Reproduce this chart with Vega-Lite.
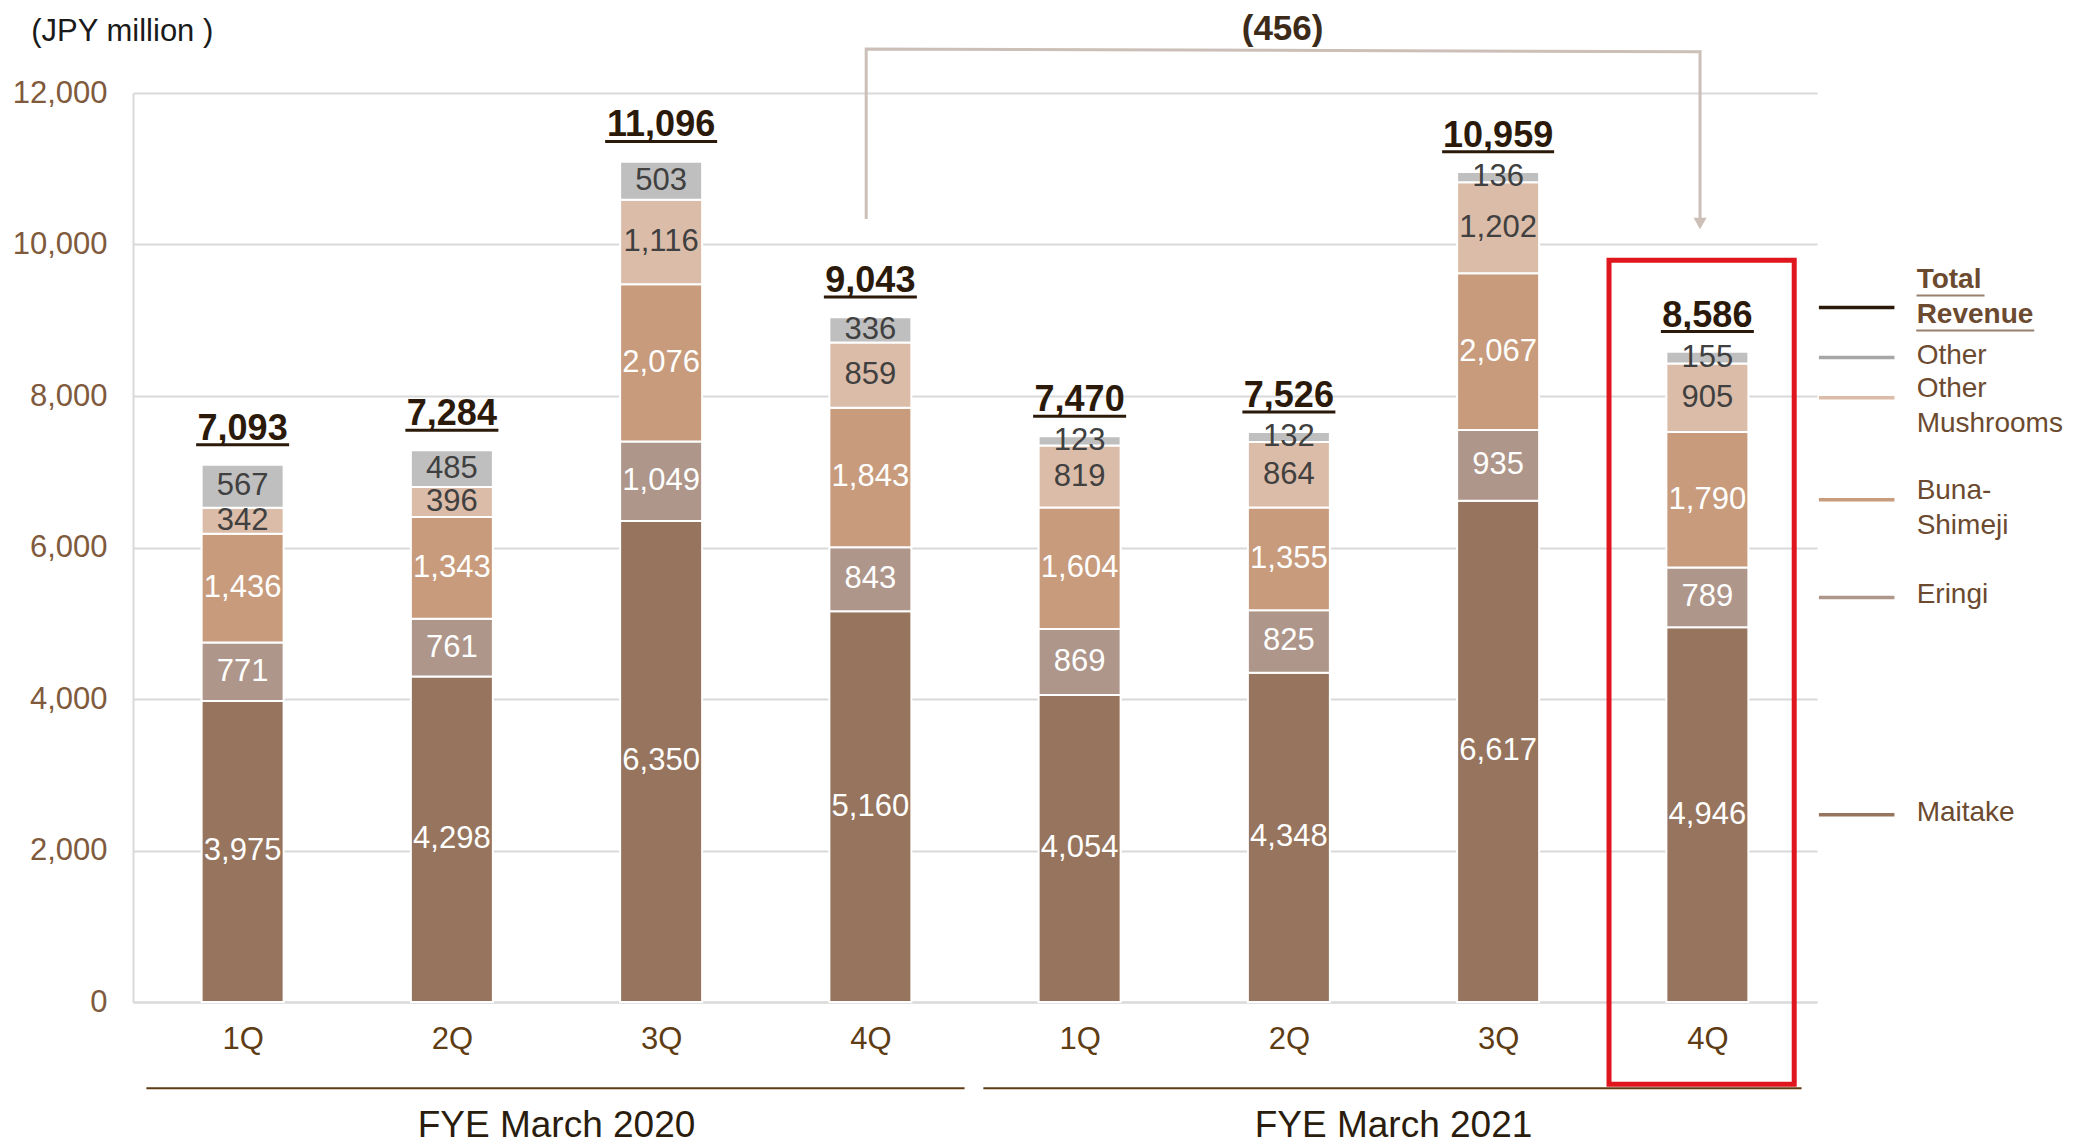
{
  "$schema": "https://vega.github.io/schema/vega-lite/v6.json",
  "width": 1684,
  "height": 909,
  "autosize": {"type": "none"},
  "padding": {"left": 133, "top": 93, "right": 263, "bottom": 142},
  "background": "white",
  "config": {"view": {"stroke": null}, "font": "Liberation Sans"},
  "datasets": {
    "seg": [
      {"fy": "FYE March 2020", "q": "1Q", "idx": 1, "series": "Maitake", "value": 3975},
      {"fy": "FYE March 2020", "q": "1Q", "idx": 1, "series": "Eringi", "value": 771},
      {"fy": "FYE March 2020", "q": "1Q", "idx": 1, "series": "Buna-Shimeji", "value": 1436},
      {"fy": "FYE March 2020", "q": "1Q", "idx": 1, "series": "Other Mushrooms", "value": 342},
      {"fy": "FYE March 2020", "q": "1Q", "idx": 1, "series": "Other", "value": 567},
      {"fy": "FYE March 2020", "q": "2Q", "idx": 2, "series": "Maitake", "value": 4298},
      {"fy": "FYE March 2020", "q": "2Q", "idx": 2, "series": "Eringi", "value": 761},
      {"fy": "FYE March 2020", "q": "2Q", "idx": 2, "series": "Buna-Shimeji", "value": 1343},
      {"fy": "FYE March 2020", "q": "2Q", "idx": 2, "series": "Other Mushrooms", "value": 396},
      {"fy": "FYE March 2020", "q": "2Q", "idx": 2, "series": "Other", "value": 485},
      {"fy": "FYE March 2020", "q": "3Q", "idx": 3, "series": "Maitake", "value": 6350},
      {"fy": "FYE March 2020", "q": "3Q", "idx": 3, "series": "Eringi", "value": 1049},
      {"fy": "FYE March 2020", "q": "3Q", "idx": 3, "series": "Buna-Shimeji", "value": 2076},
      {"fy": "FYE March 2020", "q": "3Q", "idx": 3, "series": "Other Mushrooms", "value": 1116},
      {"fy": "FYE March 2020", "q": "3Q", "idx": 3, "series": "Other", "value": 503},
      {"fy": "FYE March 2020", "q": "4Q", "idx": 4, "series": "Maitake", "value": 5160},
      {"fy": "FYE March 2020", "q": "4Q", "idx": 4, "series": "Eringi", "value": 843},
      {"fy": "FYE March 2020", "q": "4Q", "idx": 4, "series": "Buna-Shimeji", "value": 1843},
      {"fy": "FYE March 2020", "q": "4Q", "idx": 4, "series": "Other Mushrooms", "value": 859},
      {"fy": "FYE March 2020", "q": "4Q", "idx": 4, "series": "Other", "value": 336},
      {"fy": "FYE March 2021", "q": "1Q", "idx": 5, "series": "Maitake", "value": 4054},
      {"fy": "FYE March 2021", "q": "1Q", "idx": 5, "series": "Eringi", "value": 869},
      {"fy": "FYE March 2021", "q": "1Q", "idx": 5, "series": "Buna-Shimeji", "value": 1604},
      {"fy": "FYE March 2021", "q": "1Q", "idx": 5, "series": "Other Mushrooms", "value": 819},
      {"fy": "FYE March 2021", "q": "1Q", "idx": 5, "series": "Other", "value": 123},
      {"fy": "FYE March 2021", "q": "2Q", "idx": 6, "series": "Maitake", "value": 4348},
      {"fy": "FYE March 2021", "q": "2Q", "idx": 6, "series": "Eringi", "value": 825},
      {"fy": "FYE March 2021", "q": "2Q", "idx": 6, "series": "Buna-Shimeji", "value": 1355},
      {"fy": "FYE March 2021", "q": "2Q", "idx": 6, "series": "Other Mushrooms", "value": 864},
      {"fy": "FYE March 2021", "q": "2Q", "idx": 6, "series": "Other", "value": 132},
      {"fy": "FYE March 2021", "q": "3Q", "idx": 7, "series": "Maitake", "value": 6617},
      {"fy": "FYE March 2021", "q": "3Q", "idx": 7, "series": "Eringi", "value": 935},
      {"fy": "FYE March 2021", "q": "3Q", "idx": 7, "series": "Buna-Shimeji", "value": 2067},
      {"fy": "FYE March 2021", "q": "3Q", "idx": 7, "series": "Other Mushrooms", "value": 1202},
      {"fy": "FYE March 2021", "q": "3Q", "idx": 7, "series": "Other", "value": 136},
      {"fy": "FYE March 2021", "q": "4Q", "idx": 8, "series": "Maitake", "value": 4946},
      {"fy": "FYE March 2021", "q": "4Q", "idx": 8, "series": "Eringi", "value": 789},
      {"fy": "FYE March 2021", "q": "4Q", "idx": 8, "series": "Buna-Shimeji", "value": 1790},
      {"fy": "FYE March 2021", "q": "4Q", "idx": 8, "series": "Other Mushrooms", "value": 905},
      {"fy": "FYE March 2021", "q": "4Q", "idx": 8, "series": "Other", "value": 155}
    ],
    "tot": [
      {"idx": 1, "total": 7093},
      {"idx": 2, "total": 7284},
      {"idx": 3, "total": 11096},
      {"idx": 4, "total": 9043},
      {"idx": 5, "total": 7470},
      {"idx": 6, "total": 7526},
      {"idx": 7, "total": 10959},
      {"idx": 8, "total": 8586}
    ],
    "bracket": [
      {"o": 1, "bx": 3.98, "by": 10336},
      {"o": 2, "bx": 3.98, "by": 12580},
      {"o": 3, "bx": 7.965, "by": 12545},
      {"o": 4, "bx": 7.965, "by": 10330}
    ]
  },
  "resolve": {"scale": {"color": "independent", "stroke": "independent"}},
  "layer": [
    {
      "data": {"name": "seg"},
      "transform": [
        {"calculate": "indexof(['Maitake','Eringi','Buna-Shimeji','Other Mushrooms','Other'], datum.series)", "as": "rank"},
        {"stack": "value", "groupby": ["idx"], "sort": [{"field": "rank", "order": "ascending"}], "as": ["y0", "y1"]}
      ],
      "mark": {"type": "bar", "width": 82, "stroke": "white", "strokeWidth": 2},
      "encoding": {
        "x": {
          "field": "idx", "type": "quantitative",
          "scale": {"domain": [0.5, 8.5], "zero": false, "nice": false},
          "axis": {
            "values": [1, 2, 3, 4, 5, 6, 7, 8],
            "labelExpr": "((datum.value - 1) % 4 + 1) + 'Q'",
            "title": null, "grid": false, "ticks": false,
            "labelFontSize": 31, "labelColor": "#5e3c14", "labelPadding": 22,
            "labelFlush": false, "labelOverlap": false, "labelBound": false,
            "domainColor": "#d9d9d9", "domainWidth": 2
          }
        },
        "y": {
          "field": "y0", "type": "quantitative",
          "scale": {"domain": [0, 12000], "nice": false, "zero": true},
          "axis": {
            "values": [0, 2000, 4000, 6000, 8000, 10000, 12000],
            "labelExpr": "format(datum.value, ',')",
            "title": null, "ticks": false,
            "labelFontSize": 31, "labelColor": "#7f5a3c", "labelPadding": 26,
            "grid": true, "gridColor": "#d9d9d9", "gridWidth": 2,
            "domainColor": "#d9d9d9", "domainWidth": 2
          }
        },
        "y2": {"field": "y1"},
        "color": {
          "field": "series", "type": "nominal",
          "scale": {
            "domain": ["Maitake", "Eringi", "Buna-Shimeji", "Other Mushrooms", "Other"],
            "range": ["#96745d", "#ae968a", "#c79b7c", "#dbbca8", "#bfbfbf"]
          },
          "legend": null
        }
      }
    },
    {
      "data": {"name": "seg"},
      "transform": [
        {"calculate": "indexof(['Maitake','Eringi','Buna-Shimeji','Other Mushrooms','Other'], datum.series)", "as": "rank"},
        {"stack": "value", "groupby": ["idx"], "sort": [{"field": "rank", "order": "ascending"}], "as": ["y0", "y1"]},
        {"calculate": "(datum.y0 + datum.y1) / 2", "as": "mid"}
      ],
      "mark": {"type": "text", "fontSize": 31, "baseline": "middle", "align": "center"},
      "encoding": {
        "x": {"field": "idx", "type": "quantitative"},
        "y": {"field": "mid", "type": "quantitative"},
        "text": {"field": "value", "type": "quantitative", "format": ","},
        "color": {
          "field": "series", "type": "nominal",
          "scale": {
            "domain": ["Maitake", "Eringi", "Buna-Shimeji", "Other Mushrooms", "Other"],
            "range": ["#ffffff", "#ffffff", "#ffffff", "#404040", "#404040"]
          },
          "legend": null
        }
      }
    },
    {
      "data": {"name": "tot"},
      "mark": {"type": "text", "fontSize": 36, "fontWeight": "bold", "baseline": "alphabetic", "align": "center", "dy": -25, "color": "#2b1a0a"},
      "encoding": {
        "x": {"field": "idx", "type": "quantitative"},
        "y": {"field": "total", "type": "quantitative"},
        "text": {"field": "total", "type": "quantitative", "format": ","}
      }
    },
    {
      "data": {"name": "tot"},
      "transform": [{"filter": "datum.total < 10000"}],
      "mark": {"type": "tick", "orient": "horizontal", "size": 93, "thickness": 3, "color": "#2b1a0a", "yOffset": -20, "opacity": 1},
      "encoding": {
        "x": {"field": "idx", "type": "quantitative"},
        "y": {"field": "total", "type": "quantitative"}
      }
    },
    {
      "data": {"name": "tot"},
      "transform": [{"filter": "datum.total >= 10000"}],
      "mark": {"type": "tick", "orient": "horizontal", "size": 112, "thickness": 3, "color": "#2b1a0a", "yOffset": -20, "opacity": 1},
      "encoding": {
        "x": {"field": "idx", "type": "quantitative"},
        "y": {"field": "total", "type": "quantitative"}
      }
    },
    {
      "data": {"name": "seg"},
      "transform": [
        {"calculate": "indexof(['Maitake','Eringi','Buna-Shimeji','Other Mushrooms','Other'], datum.series)", "as": "rank"},
        {"stack": "value", "groupby": ["idx"], "sort": [{"field": "rank", "order": "ascending"}], "as": ["y0", "y1"]},
        {"calculate": "(datum.y0 + datum.y1) / 2", "as": "mid"},
        {"filter": "datum.idx == 8"}
      ],
      "mark": {"type": "rule", "strokeWidth": 3.5},
      "encoding": {
        "x": {"datum": 8.533},
        "x2": {"datum": 8.894},
        "y": {"field": "mid", "type": "quantitative"},
        "stroke": {
          "field": "series", "type": "nominal",
          "scale": {
            "domain": ["Maitake", "Eringi", "Buna-Shimeji", "Other Mushrooms", "Other"],
            "range": ["#96745d", "#ae968a", "#c79b7c", "#dbbca8", "#a6a6a6"]
          },
          "legend": null
        }
      }
    },
    {
      "data": {"name": "seg"},
      "transform": [
        {"calculate": "indexof(['Maitake','Eringi','Buna-Shimeji','Other Mushrooms','Other'], datum.series)", "as": "rank"},
        {"stack": "value", "groupby": ["idx"], "sort": [{"field": "rank", "order": "ascending"}], "as": ["y0", "y1"]},
        {"calculate": "(datum.y0 + datum.y1) / 2", "as": "mid"},
        {"filter": "datum.idx == 8 && (datum.series == 'Maitake' || datum.series == 'Eringi' || datum.series == 'Other')"}
      ],
      "mark": {"type": "text", "fontSize": 28, "align": "left", "baseline": "middle", "color": "#6b4a30", "dy": -2},
      "encoding": {
        "x": {"datum": 9.0},
        "y": {"field": "mid", "type": "quantitative"},
        "text": {"field": "series", "type": "nominal"}
      }
    },
    {
      "data": {"name": "seg"},
      "transform": [
        {"calculate": "indexof(['Maitake','Eringi','Buna-Shimeji','Other Mushrooms','Other'], datum.series)", "as": "rank"},
        {"stack": "value", "groupby": ["idx"], "sort": [{"field": "rank", "order": "ascending"}], "as": ["y0", "y1"]},
        {"calculate": "(datum.y0 + datum.y1) / 2", "as": "mid"},
        {"filter": "datum.idx == 8 && (datum.series == 'Buna-Shimeji' || datum.series == 'Other Mushrooms')"},
        {"calculate": "replace(replace(datum.series, ' ', '\\n'), '-', '-\\n')", "as": "lab"}
      ],
      "mark": {"type": "text", "fontSize": 28, "align": "left", "baseline": "middle", "color": "#6b4a30", "lineBreak": "\n", "lineHeight": 35, "dy": -9},
      "encoding": {
        "x": {"datum": 9.0},
        "y": {"field": "mid", "type": "quantitative"},
        "text": {"field": "lab", "type": "nominal"}
      }
    },
    {
      "data": {"name": "tot"},
      "transform": [{"filter": "datum.idx == 8"}],
      "mark": {"type": "rule", "strokeWidth": 3.5, "color": "#2b1a0a", "yOffset": -44},
      "encoding": {
        "x": {"datum": 8.533},
        "x2": {"datum": 8.894},
        "y": {"field": "total", "type": "quantitative"}
      }
    },
    {
      "data": {"name": "tot"},
      "transform": [{"filter": "datum.idx == 8"}],
      "mark": {"type": "text", "fontSize": 28, "fontWeight": "bold", "align": "left", "baseline": "middle", "color": "#6b4a30", "lineBreak": "\n", "lineHeight": 35, "dy": -72},
      "encoding": {
        "x": {"datum": 9.0},
        "y": {"field": "total", "type": "quantitative"},
        "text": {"value": "Total\nRevenue"}
      }
    },
    {
      "data": {"name": "tot"},
      "transform": [{"filter": "datum.idx == 8"}],
      "mark": {"type": "tick", "orient": "horizontal", "size": 68, "thickness": 2, "color": "#6b4a30", "yOffset": -56},
      "encoding": {
        "x": {"datum": 9.162},
        "y": {"field": "total", "type": "quantitative"}
      }
    },
    {
      "data": {"name": "tot"},
      "transform": [{"filter": "datum.idx == 8"}],
      "mark": {"type": "tick", "orient": "horizontal", "size": 118, "thickness": 2, "color": "#6b4a30", "yOffset": -21},
      "encoding": {
        "x": {"datum": 9.28},
        "y": {"field": "total", "type": "quantitative"}
      }
    },
    {
      "data": {"name": "bracket"},
      "mark": {"type": "line", "color": "#cbbfb8", "strokeWidth": 3},
      "encoding": {
        "x": {"field": "bx", "type": "quantitative"},
        "y": {"field": "by", "type": "quantitative"},
        "order": {"field": "o", "type": "quantitative"}
      }
    },
    {
      "data": {"name": "bracket"},
      "transform": [{"filter": "datum.o == 4"}],
      "mark": {"type": "point", "shape": "triangle-down", "filled": true, "size": 170, "color": "#cbbfb8", "opacity": 1, "yOffset": 4},
      "encoding": {
        "x": {"field": "bx", "type": "quantitative"},
        "y": {"field": "by", "type": "quantitative"}
      }
    },
    {
      "data": {"values": [{"lab": "(456)"}]},
      "mark": {"type": "text", "fontSize": 35, "fontWeight": "bold", "align": "center", "baseline": "middle", "color": "#3d2b1a"},
      "encoding": {
        "x": {"datum": 5.97},
        "y": {"datum": 12843},
        "text": {"field": "lab", "type": "nominal"}
      }
    },
    {
      "data": {"values": [{"lab": "(JPY million )"}]},
      "mark": {"type": "text", "fontSize": 31, "align": "left", "baseline": "middle", "color": "#1a1a1a"},
      "encoding": {
        "x": {"datum": -0.01},
        "y": {"datum": 12804},
        "text": {"field": "lab", "type": "nominal"}
      }
    },
    {
      "data": {"values": [{"lab": "box"}]},
      "mark": {"type": "rect", "fillOpacity": 0, "stroke": "#e0161e", "strokeWidth": 5},
      "encoding": {
        "x": {"datum": 7.53},
        "x2": {"datum": 8.415},
        "y": {"datum": 9792},
        "y2": {"datum": -1087}
      }
    },
    {
      "data": {"name": "seg"},
      "transform": [
        {"aggregate": [{"op": "min", "field": "idx", "as": "lo"}, {"op": "max", "field": "idx", "as": "hi"}], "groupby": ["fy"]},
        {"calculate": "datum.lo - 0.46", "as": "a"},
        {"calculate": "datum.hi + 0.45", "as": "b"}
      ],
      "mark": {"type": "rule", "color": "#5e3c14", "strokeWidth": 2},
      "encoding": {
        "x": {"field": "a", "type": "quantitative"},
        "x2": {"field": "b"},
        "y": {"datum": -1138}
      }
    },
    {
      "data": {"name": "seg"},
      "transform": [
        {"aggregate": [{"op": "min", "field": "idx", "as": "lo"}, {"op": "max", "field": "idx", "as": "hi"}], "groupby": ["fy"]},
        {"calculate": "(datum.lo + datum.hi) / 2", "as": "c"}
      ],
      "mark": {"type": "text", "fontSize": 37, "align": "center", "baseline": "middle", "color": "#2b1d0e"},
      "encoding": {
        "x": {"field": "c", "type": "quantitative"},
        "y": {"datum": -1631},
        "text": {"field": "fy", "type": "nominal"}
      }
    }
  ]
}
